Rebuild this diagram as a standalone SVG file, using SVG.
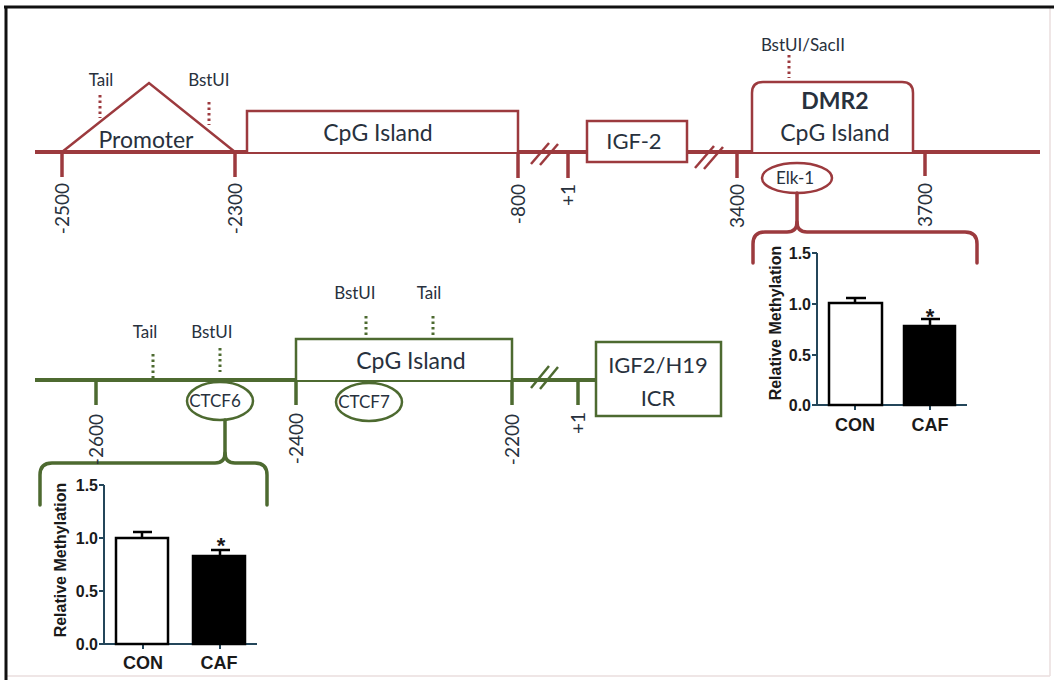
<svg xmlns="http://www.w3.org/2000/svg" width="1054" height="680" viewBox="0 0 1054 680">
<defs>
<style>
.red{stroke:#9c3a3e;fill:none}
.grn{stroke:#4d6a30;fill:none}
.main{stroke-width:4}
.tick{stroke-width:3.5}
.box{stroke-width:2.5;fill:#fff}
.dot{stroke-width:3;stroke-dasharray:2.5 3}
.brk{stroke-width:2.5}
.brace{stroke-width:3.5;stroke-linejoin:round;stroke-linecap:round}
.lbl{font-family:Lato,"Open Sans",sans-serif;fill:#28313d}
.sm{font-size:17px}
.big{font-size:23px}
.num{font-size:19px}
.ax{stroke:#24465a;stroke-width:2;fill:none}
.bar{stroke:#000;stroke-width:2.5}
.ch{font-family:"Liberation Sans",Arial,sans-serif;font-weight:bold;fill:#1a1a1a}
</style>
</defs>
<rect x="0" y="0" width="1054" height="680" fill="#fff"/>
<g id="frame">
<line x1="1050" y1="8" x2="1050" y2="676" stroke="#eadede" stroke-width="1.5"/>
<line x1="6" y1="676" x2="1050" y2="676" stroke="#eadede" stroke-width="1.5"/>
<line x1="4" y1="7" x2="1054" y2="7" stroke="#111" stroke-width="3"/>
<line x1="6" y1="6" x2="6" y2="680" stroke="#111" stroke-width="3"/>
</g>

<g id="connectors">
<line class="red main" x1="35" y1="152" x2="1040" y2="152"/>
<line class="red tick" x1="62" y1="152" x2="62" y2="177"/>
<line class="red tick" x1="235" y1="152" x2="235" y2="177"/>
<line class="red tick" x1="518" y1="152" x2="518" y2="178"/>
<line class="red tick" x1="568" y1="152" x2="568" y2="178"/>
<line class="red tick" x1="737" y1="152" x2="737" y2="178"/>
<line class="red tick" x1="925" y1="152" x2="925" y2="176"/>
<line class="red brk" x1="531" y1="164" x2="549" y2="143"/>
<line class="red brk" x1="540" y1="165" x2="558" y2="144"/>
<line class="red brk" x1="695" y1="168" x2="714" y2="146"/>
<line class="red brk" x1="704" y1="169" x2="723" y2="147"/>
<line class="red dot" x1="100" y1="95" x2="100" y2="118"/>
<line class="red dot" x1="209" y1="102" x2="209" y2="125"/>
<line class="red dot" x1="789" y1="55" x2="789" y2="78"/>
<path class="red brace" d="M797 193 L797 222 Q797 232 787 232 L765 232 Q753 232 753 244 L753 263"/>
<path class="red brace" d="M797 222 Q797 232 807 232 L965 232 Q977 232 977 244 L977 263"/>
<line class="grn main" x1="35" y1="380" x2="596" y2="380"/>
<line class="grn tick" x1="96" y1="380" x2="96" y2="405"/>
<line class="grn tick" x1="296" y1="380" x2="296" y2="405"/>
<line class="grn tick" x1="512" y1="380" x2="512" y2="405"/>
<line class="grn tick" x1="578" y1="380" x2="578" y2="405"/>
<line class="grn brk" x1="531" y1="388" x2="549" y2="366"/>
<line class="grn brk" x1="540" y1="389" x2="558" y2="367"/>
<line class="grn dot" x1="153" y1="354" x2="153" y2="378"/>
<line class="grn dot" x1="220" y1="348" x2="220" y2="372"/>
<line class="grn dot" x1="366" y1="316" x2="366" y2="338"/>
<line class="grn dot" x1="433" y1="316" x2="433" y2="338"/>
<path class="grn brace" d="M225 420 L225 453 Q225 463 215 463 L52 463 Q40 463 40 475 L40 505"/>
<path class="grn brace" d="M225 453 Q225 463 235 463 L255 463 Q267 463 267 475 L267 505"/>
</g>

<g id="promoter">
<path class="red" stroke-width="2.5" d="M62 152 L149 83 L235 152"/>
<text class="lbl" x="146" y="148" font-size="23" text-anchor="middle">Promoter</text>
<text class="lbl sm" x="101" y="86" text-anchor="middle">Tail</text>
<text class="lbl sm" x="209" y="86" text-anchor="middle">BstUI</text>
</g>
<g id="cpg1">
<path class="red box" d="M247 152 L247 111 L518 111 L518 152"/>
<text class="lbl big" x="378" y="141" text-anchor="middle">CpG Island</text>
</g>
<g id="igf2">
<rect class="red box" x="587" y="121" width="100" height="41"/>
<text class="lbl" x="634" y="149" font-size="22" text-anchor="middle">IGF-2</text>
</g>
<g id="dmr2">
<path class="red box" d="M752 152 L752 93 Q752 82 763 82 L902 82 Q913 82 913 93 L913 152"/>
<text class="lbl" x="835" y="109" font-size="23" font-weight="bold" text-anchor="middle">DMR2</text>
<text class="lbl big" x="835" y="141" text-anchor="middle">CpG Island</text>
<text class="lbl sm" x="803" y="51" text-anchor="middle">BstUI/SacII</text>
</g>
<g id="elk1">
<ellipse class="red" stroke-width="2.5" fill="#fff" cx="797" cy="178" rx="35" ry="15"/>
<text class="lbl" x="795" y="184" font-size="17" text-anchor="middle">Elk-1</text>
</g>
<g id="toplabels" class="lbl num">
<text transform="rotate(-90 69 183)" x="69" y="183" text-anchor="end">-2500</text>
<text transform="rotate(-90 242 183)" x="242" y="183" text-anchor="end">-2300</text>
<text transform="rotate(-90 525 184)" x="525" y="184" text-anchor="end">-800</text>
<text transform="rotate(-90 575 184)" x="575" y="184" text-anchor="end">+1</text>
<text transform="rotate(-90 744 184)" x="744" y="184" text-anchor="end">3400</text>
<text transform="rotate(-90 932 183)" x="932" y="183" text-anchor="end">3700</text>
</g>

<g id="cpg2">
<path class="grn box" d="M296 380 L296 339 L512 339 L512 380"/>
<text class="lbl big" x="411" y="369" text-anchor="middle">CpG Island</text>
<text class="lbl sm" x="355" y="299" text-anchor="middle">BstUI</text>
<text class="lbl sm" x="429" y="299" text-anchor="middle">Tail</text>
</g>
<g id="icr">
<rect class="grn box" x="596" y="342" width="125" height="74"/>
<text class="lbl" x="658" y="373" font-size="22" text-anchor="middle">IGF2/H19</text>
<text class="lbl" x="658" y="406" font-size="22" text-anchor="middle">ICR</text>
</g>
<g id="ctcf6">
<ellipse class="grn" stroke-width="2.5" fill="#fff" cx="220" cy="401" rx="33" ry="19"/>
<text class="lbl" x="215" y="407" font-size="17" text-anchor="middle">CTCF6</text>
<text class="lbl sm" x="145" y="338" text-anchor="middle">Tail</text>
<text class="lbl sm" x="212" y="338" text-anchor="middle">BstUI</text>
</g>
<g id="ctcf7">
<ellipse class="grn" stroke-width="2.5" fill="#fff" cx="369" cy="402" rx="33" ry="19"/>
<text class="lbl" x="364" y="408" font-size="17" text-anchor="middle">CTCF7</text>
</g>
<g id="botlabels" class="lbl num">
<text transform="rotate(-90 103 414)" x="103" y="414" text-anchor="end">-2600</text>
<text transform="rotate(-90 303 413)" x="303" y="413" text-anchor="end">-2400</text>
<text transform="rotate(-90 519 414)" x="519" y="414" text-anchor="end">-2200</text>
<text transform="rotate(-90 585 412)" x="585" y="412" text-anchor="end">+1</text>
</g>

<g id="chart1">
<path class="ax" d="M817 253 L817 405 L967 405 M812 253 L817 253 M812 304 L817 304 M812 355 L817 355 M812 405 L817 405 M855 405 L855 410 M930 405 L930 410"/>
<rect class="bar" x="829" y="303" width="53" height="102" fill="#fff"/>
<rect class="bar" x="904" y="326" width="51" height="79" fill="#000"/>
<path stroke="#000" stroke-width="2.5" fill="none" d="M855 303 L855 298 M846 298 L866 298 M930 326 L930 319 M921 319 L940 319"/>
<text class="ch" x="930" y="324" font-size="22" text-anchor="middle">*</text>
<g class="ch" font-size="16" text-anchor="end">
<text x="811" y="259">1.5</text>
<text x="811" y="310">1.0</text>
<text x="811" y="361">0.5</text>
<text x="811" y="411">0.0</text>
</g>
<text class="ch" x="855" y="431" font-size="18" text-anchor="middle">CON</text>
<text class="ch" x="930" y="431" font-size="18" text-anchor="middle">CAF</text>
<text class="ch" transform="rotate(-90 781 323)" x="781" y="323" font-size="16" text-anchor="middle">Relative Methylation</text>
</g>

<g id="chart2">
<path class="ax" d="M104 485 L104 644 L257 644 M99 485 L104 485 M99 538 L104 538 M99 591 L104 591 M99 644 L104 644 M143 644 L143 649 M220 644 L220 649"/>
<rect class="bar" x="116" y="538" width="52" height="106" fill="#fff"/>
<rect class="bar" x="193" y="556" width="52" height="88" fill="#000"/>
<path stroke="#000" stroke-width="2.5" fill="none" d="M142 538 L142 532 M133 532 L152 532 M220 556 L220 550 M211 550 L230 550"/>
<text class="ch" x="221" y="553" font-size="22" text-anchor="middle">*</text>
<g class="ch" font-size="16" text-anchor="end">
<text x="98" y="491">1.5</text>
<text x="98" y="544">1.0</text>
<text x="98" y="597">0.5</text>
<text x="98" y="650">0.0</text>
</g>
<text class="ch" x="143" y="669" font-size="18" text-anchor="middle">CON</text>
<text class="ch" x="219" y="669" font-size="18" text-anchor="middle">CAF</text>
<text class="ch" transform="rotate(-90 66 560)" x="66" y="560" font-size="16" text-anchor="middle">Relative Methylation</text>
</g>
</svg>
